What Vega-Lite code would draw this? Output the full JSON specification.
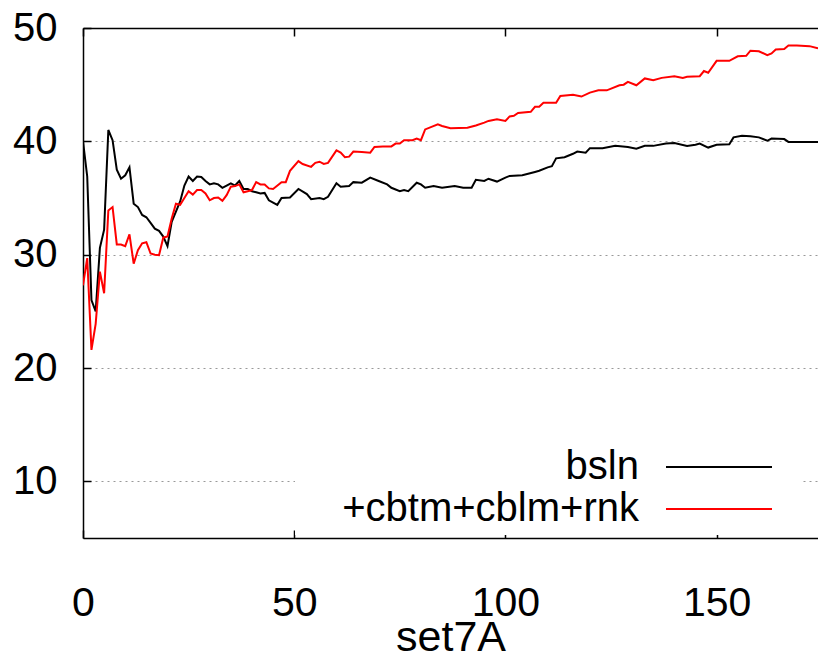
{
  "$schema": "https://vega.github.io/schema/vega-lite/v6.json",
  "width": 735,
  "height": 510,
  "autosize": {"type": "none"},
  "padding": {"left": 83, "top": 28, "right": 0, "bottom": 124},
  "background": "white",
  "config": {"view": {"stroke": null}, "font": "Liberation Sans"},
  "data": {"values": [
    {"series":"bsln","x":0,"y":40.0},{"series":"bsln","x":1,"y":36.9},{"series":"bsln","x":2,"y":26.0},{"series":"bsln","x":3,"y":25.0},{"series":"bsln","x":4,"y":30.6},{"series":"bsln","x":5,"y":32.2},{"series":"bsln","x":6,"y":41.0},{"series":"bsln","x":7,"y":40.1},{"series":"bsln","x":8,"y":37.5},{"series":"bsln","x":9,"y":36.7},{"series":"bsln","x":10,"y":37.0},{"series":"bsln","x":11,"y":37.7},{"series":"bsln","x":12,"y":34.5},{"series":"bsln","x":13,"y":34.2},{"series":"bsln","x":14,"y":33.5},{"series":"bsln","x":15,"y":33.3},{"series":"bsln","x":16,"y":32.8},{"series":"bsln","x":17,"y":32.3},{"series":"bsln","x":18,"y":32.1},{"series":"bsln","x":19,"y":31.6},{"series":"bsln","x":20,"y":30.75},{"series":"bsln","x":21,"y":32.9},{"series":"bsln","x":22,"y":33.8},{"series":"bsln","x":23,"y":34.7},{"series":"bsln","x":24,"y":36.1},{"series":"bsln","x":25,"y":36.9},{"series":"bsln","x":26,"y":36.5},{"series":"bsln","x":27,"y":36.9},{"series":"bsln","x":28,"y":36.85},{"series":"bsln","x":29,"y":36.5},{"series":"bsln","x":30,"y":36.2},{"series":"bsln","x":31,"y":36.3},{"series":"bsln","x":32,"y":36.2},{"series":"bsln","x":33,"y":35.9},{"series":"bsln","x":34,"y":36.1},{"series":"bsln","x":35,"y":36.3},{"series":"bsln","x":36,"y":36.1},{"series":"bsln","x":37,"y":36.5},{"series":"bsln","x":38,"y":35.8},{"series":"bsln","x":39,"y":35.8},{"series":"bsln","x":40,"y":35.6},{"series":"bsln","x":41,"y":35.5},{"series":"bsln","x":42,"y":35.4},{"series":"bsln","x":43,"y":35.45},{"series":"bsln","x":44,"y":34.8},{"series":"bsln","x":45,"y":34.6},{"series":"bsln","x":46,"y":34.4},{"series":"bsln","x":47,"y":35.0},{"series":"bsln","x":49,"y":35.05},{"series":"bsln","x":51,"y":35.8},{"series":"bsln","x":53,"y":35.35},{"series":"bsln","x":54,"y":34.9},{"series":"bsln","x":56,"y":35.0},{"series":"bsln","x":57,"y":34.9},{"series":"bsln","x":58,"y":35.1},{"series":"bsln","x":60,"y":36.3},{"series":"bsln","x":61,"y":36.0},{"series":"bsln","x":63,"y":36.05},{"series":"bsln","x":64,"y":36.4},{"series":"bsln","x":66,"y":36.35},{"series":"bsln","x":68,"y":36.8},{"series":"bsln","x":70,"y":36.5},{"series":"bsln","x":72,"y":36.2},{"series":"bsln","x":73,"y":35.9},{"series":"bsln","x":75,"y":35.6},{"series":"bsln","x":76,"y":35.7},{"series":"bsln","x":77,"y":35.6},{"series":"bsln","x":79,"y":36.35},{"series":"bsln","x":80,"y":36.2},{"series":"bsln","x":81,"y":35.9},{"series":"bsln","x":83,"y":36.05},{"series":"bsln","x":85,"y":35.9},{"series":"bsln","x":88,"y":36.05},{"series":"bsln","x":90,"y":35.9},{"series":"bsln","x":92,"y":35.9},{"series":"bsln","x":93,"y":36.6},{"series":"bsln","x":95,"y":36.5},{"series":"bsln","x":96,"y":36.7},{"series":"bsln","x":98,"y":36.45},{"series":"bsln","x":100,"y":36.8},{"series":"bsln","x":101,"y":36.95},{"series":"bsln","x":104,"y":37.0},{"series":"bsln","x":107,"y":37.3},{"series":"bsln","x":108,"y":37.4},{"series":"bsln","x":110,"y":37.7},{"series":"bsln","x":111,"y":37.8},{"series":"bsln","x":112,"y":38.5},{"series":"bsln","x":114,"y":38.6},{"series":"bsln","x":116,"y":38.9},{"series":"bsln","x":117,"y":39.1},{"series":"bsln","x":119,"y":39.0},{"series":"bsln","x":120,"y":39.4},{"series":"bsln","x":123,"y":39.4},{"series":"bsln","x":126,"y":39.6},{"series":"bsln","x":129,"y":39.5},{"series":"bsln","x":131,"y":39.35},{"series":"bsln","x":133,"y":39.6},{"series":"bsln","x":135,"y":39.6},{"series":"bsln","x":138,"y":39.8},{"series":"bsln","x":140,"y":39.85},{"series":"bsln","x":143,"y":39.6},{"series":"bsln","x":145,"y":39.7},{"series":"bsln","x":146,"y":39.8},{"series":"bsln","x":148,"y":39.45},{"series":"bsln","x":150,"y":39.7},{"series":"bsln","x":153,"y":39.75},{"series":"bsln","x":154,"y":40.35},{"series":"bsln","x":156,"y":40.5},{"series":"bsln","x":158,"y":40.45},{"series":"bsln","x":160,"y":40.35},{"series":"bsln","x":162,"y":40.05},{"series":"bsln","x":163,"y":40.25},{"series":"bsln","x":166,"y":40.2},{"series":"bsln","x":167,"y":39.95},{"series":"bsln","x":170,"y":39.95},{"series":"bsln","x":174,"y":39.95},
    {"series":"+cbtm+cblm+rnk","x":0,"y":27.3},{"series":"+cbtm+cblm+rnk","x":1,"y":29.7},{"series":"+cbtm+cblm+rnk","x":2,"y":21.6},{"series":"+cbtm+cblm+rnk","x":3,"y":23.9},{"series":"+cbtm+cblm+rnk","x":4,"y":28.5},{"series":"+cbtm+cblm+rnk","x":5,"y":26.6},{"series":"+cbtm+cblm+rnk","x":6,"y":33.9},{"series":"+cbtm+cblm+rnk","x":7,"y":34.2},{"series":"+cbtm+cblm+rnk","x":8,"y":30.9},{"series":"+cbtm+cblm+rnk","x":9,"y":30.9},{"series":"+cbtm+cblm+rnk","x":10,"y":30.75},{"series":"+cbtm+cblm+rnk","x":11,"y":31.8},{"series":"+cbtm+cblm+rnk","x":12,"y":29.2},{"series":"+cbtm+cblm+rnk","x":13,"y":30.4},{"series":"+cbtm+cblm+rnk","x":14,"y":31.0},{"series":"+cbtm+cblm+rnk","x":15,"y":31.1},{"series":"+cbtm+cblm+rnk","x":16,"y":30.1},{"series":"+cbtm+cblm+rnk","x":17,"y":30.0},{"series":"+cbtm+cblm+rnk","x":18,"y":29.95},{"series":"+cbtm+cblm+rnk","x":19,"y":31.5},{"series":"+cbtm+cblm+rnk","x":20,"y":31.6},{"series":"+cbtm+cblm+rnk","x":21,"y":33.2},{"series":"+cbtm+cblm+rnk","x":22,"y":34.5},{"series":"+cbtm+cblm+rnk","x":23,"y":34.4},{"series":"+cbtm+cblm+rnk","x":24,"y":35.0},{"series":"+cbtm+cblm+rnk","x":25,"y":35.6},{"series":"+cbtm+cblm+rnk","x":26,"y":35.3},{"series":"+cbtm+cblm+rnk","x":27,"y":35.7},{"series":"+cbtm+cblm+rnk","x":28,"y":35.7},{"series":"+cbtm+cblm+rnk","x":29,"y":35.4},{"series":"+cbtm+cblm+rnk","x":30,"y":34.8},{"series":"+cbtm+cblm+rnk","x":31,"y":35.0},{"series":"+cbtm+cblm+rnk","x":32,"y":35.05},{"series":"+cbtm+cblm+rnk","x":33,"y":34.75},{"series":"+cbtm+cblm+rnk","x":34,"y":35.25},{"series":"+cbtm+cblm+rnk","x":35,"y":36.0},{"series":"+cbtm+cblm+rnk","x":36,"y":36.05},{"series":"+cbtm+cblm+rnk","x":37,"y":36.2},{"series":"+cbtm+cblm+rnk","x":38,"y":35.5},{"series":"+cbtm+cblm+rnk","x":39,"y":35.6},{"series":"+cbtm+cblm+rnk","x":40,"y":35.7},{"series":"+cbtm+cblm+rnk","x":41,"y":36.4},{"series":"+cbtm+cblm+rnk","x":42,"y":36.2},{"series":"+cbtm+cblm+rnk","x":43,"y":36.2},{"series":"+cbtm+cblm+rnk","x":44,"y":35.85},{"series":"+cbtm+cblm+rnk","x":45,"y":35.8},{"series":"+cbtm+cblm+rnk","x":47,"y":36.4},{"series":"+cbtm+cblm+rnk","x":48,"y":36.4},{"series":"+cbtm+cblm+rnk","x":49,"y":37.4},{"series":"+cbtm+cblm+rnk","x":51,"y":38.25},{"series":"+cbtm+cblm+rnk","x":52,"y":38.0},{"series":"+cbtm+cblm+rnk","x":54,"y":37.75},{"series":"+cbtm+cblm+rnk","x":55,"y":38.1},{"series":"+cbtm+cblm+rnk","x":56,"y":38.2},{"series":"+cbtm+cblm+rnk","x":57,"y":38.0},{"series":"+cbtm+cblm+rnk","x":58,"y":38.1},{"series":"+cbtm+cblm+rnk","x":60,"y":39.2},{"series":"+cbtm+cblm+rnk","x":61,"y":39.0},{"series":"+cbtm+cblm+rnk","x":62,"y":38.6},{"series":"+cbtm+cblm+rnk","x":63,"y":38.65},{"series":"+cbtm+cblm+rnk","x":64,"y":39.1},{"series":"+cbtm+cblm+rnk","x":66,"y":39.05},{"series":"+cbtm+cblm+rnk","x":68,"y":39.0},{"series":"+cbtm+cblm+rnk","x":69,"y":39.5},{"series":"+cbtm+cblm+rnk","x":71,"y":39.55},{"series":"+cbtm+cblm+rnk","x":73,"y":39.55},{"series":"+cbtm+cblm+rnk","x":74,"y":39.8},{"series":"+cbtm+cblm+rnk","x":75,"y":39.8},{"series":"+cbtm+cblm+rnk","x":76,"y":40.1},{"series":"+cbtm+cblm+rnk","x":78,"y":40.1},{"series":"+cbtm+cblm+rnk","x":79,"y":40.25},{"series":"+cbtm+cblm+rnk","x":80,"y":40.1},{"series":"+cbtm+cblm+rnk","x":81,"y":41.05},{"series":"+cbtm+cblm+rnk","x":84,"y":41.5},{"series":"+cbtm+cblm+rnk","x":85,"y":41.35},{"series":"+cbtm+cblm+rnk","x":87,"y":41.15},{"series":"+cbtm+cblm+rnk","x":91,"y":41.2},{"series":"+cbtm+cblm+rnk","x":93,"y":41.4},{"series":"+cbtm+cblm+rnk","x":95,"y":41.65},{"series":"+cbtm+cblm+rnk","x":96,"y":41.8},{"series":"+cbtm+cblm+rnk","x":98,"y":41.95},{"series":"+cbtm+cblm+rnk","x":100,"y":41.8},{"series":"+cbtm+cblm+rnk","x":101,"y":42.2},{"series":"+cbtm+cblm+rnk","x":102,"y":42.25},{"series":"+cbtm+cblm+rnk","x":103,"y":42.5},{"series":"+cbtm+cblm+rnk","x":106,"y":42.6},{"series":"+cbtm+cblm+rnk","x":107,"y":43.05},{"series":"+cbtm+cblm+rnk","x":108,"y":43.05},{"series":"+cbtm+cblm+rnk","x":109,"y":43.4},{"series":"+cbtm+cblm+rnk","x":112,"y":43.4},{"series":"+cbtm+cblm+rnk","x":113,"y":44.0},{"series":"+cbtm+cblm+rnk","x":116,"y":44.1},{"series":"+cbtm+cblm+rnk","x":118,"y":43.95},{"series":"+cbtm+cblm+rnk","x":120,"y":44.3},{"series":"+cbtm+cblm+rnk","x":122,"y":44.5},{"series":"+cbtm+cblm+rnk","x":124,"y":44.5},{"series":"+cbtm+cblm+rnk","x":127,"y":44.95},{"series":"+cbtm+cblm+rnk","x":128,"y":45.0},{"series":"+cbtm+cblm+rnk","x":129,"y":45.25},{"series":"+cbtm+cblm+rnk","x":131,"y":44.95},{"series":"+cbtm+cblm+rnk","x":133,"y":45.55},{"series":"+cbtm+cblm+rnk","x":135,"y":45.4},{"series":"+cbtm+cblm+rnk","x":137,"y":45.6},{"series":"+cbtm+cblm+rnk","x":140,"y":45.75},{"series":"+cbtm+cblm+rnk","x":142,"y":45.6},{"series":"+cbtm+cblm+rnk","x":143,"y":45.7},{"series":"+cbtm+cblm+rnk","x":146,"y":45.75},{"series":"+cbtm+cblm+rnk","x":147,"y":46.2},{"series":"+cbtm+cblm+rnk","x":148,"y":46.05},{"series":"+cbtm+cblm+rnk","x":150,"y":47.1},{"series":"+cbtm+cblm+rnk","x":153,"y":47.1},{"series":"+cbtm+cblm+rnk","x":155,"y":47.5},{"series":"+cbtm+cblm+rnk","x":157,"y":47.55},{"series":"+cbtm+cblm+rnk","x":158,"y":48.0},{"series":"+cbtm+cblm+rnk","x":160,"y":47.95},{"series":"+cbtm+cblm+rnk","x":162,"y":47.6},{"series":"+cbtm+cblm+rnk","x":163,"y":47.75},{"series":"+cbtm+cblm+rnk","x":164,"y":48.1},{"series":"+cbtm+cblm+rnk","x":166,"y":48.15},{"series":"+cbtm+cblm+rnk","x":167,"y":48.45},{"series":"+cbtm+cblm+rnk","x":169,"y":48.45},{"series":"+cbtm+cblm+rnk","x":172,"y":48.4},{"series":"+cbtm+cblm+rnk","x":174,"y":48.2}
  ]},
  "layer": [
    {
      "mark": {"type": "line", "strokeWidth": 2, "clip": true},
      "encoding": {
        "x": {"field": "x", "type": "quantitative",
          "scale": {"domain": [0, 174], "nice": false, "zero": false},
          "axis": {"orient": "bottom", "values": [0, 50, 100, 150], "title": "set7A", "grid": false,
            "labelFontSize": 41, "labelFont": "Liberation Sans", "labelColor": "black", "labelFlush": false,
            "tickSize": -8, "tickColor": "black", "tickWidth": 1.5,
            "domainColor": "black", "domainWidth": 1.5, "labelPadding": 53,
            "titleFont": "Liberation Sans", "titleFontSize": 43, "titleFontWeight": "normal", "titleColor": "black", "titlePadding": -7}},
        "y": {"field": "y", "type": "quantitative",
          "scale": {"domain": [5, 50], "nice": false, "zero": false},
          "axis": {"values": [10, 20, 30, 40, 50], "title": null,
            "labelFontSize": 40, "labelFont": "Liberation Sans", "labelColor": "black",
            "tickSize": -8, "tickColor": "black", "tickWidth": 1.5,
            "domainColor": "black", "domainWidth": 1.5, "labelPadding": 34,
            "grid": true, "gridDash": [2, 4], "gridColor": "#999999", "gridWidth": 1}},
        "color": {"field": "series", "type": "nominal",
          "scale": {"domain": ["bsln", "+cbtm+cblm+rnk"], "range": ["#000000", "#ff0000"]},
          "legend": {"title": null, "orient": "none", "legendX": 212, "legendY": 413,
            "symbolType": "M172.5,0H225.5M236,0", "symbolSize": 16, "symbolStrokeWidth": 2,
            "labelFontSize": 40, "labelFont": "Liberation Sans", "labelColor": "black",
            "labelAlign": "right", "labelOffset": 298, "labelLimit": 0,
            "fillColor": "white", "padding": 6, "rowPadding": 2}}
      }
    },
    {
      "mark": {"type": "point", "opacity": 0},
      "encoding": {
        "x": {"field": "x", "type": "quantitative",
          "axis": {"orient": "top", "values": [0, 50, 100, 150], "labels": false, "title": null, "grid": false,
            "tickSize": -8, "tickColor": "black", "tickWidth": 1.5,
            "domainColor": "black", "domainWidth": 1.5}},
        "y": {"field": "y", "type": "quantitative"}
      }
    }
  ]
}
